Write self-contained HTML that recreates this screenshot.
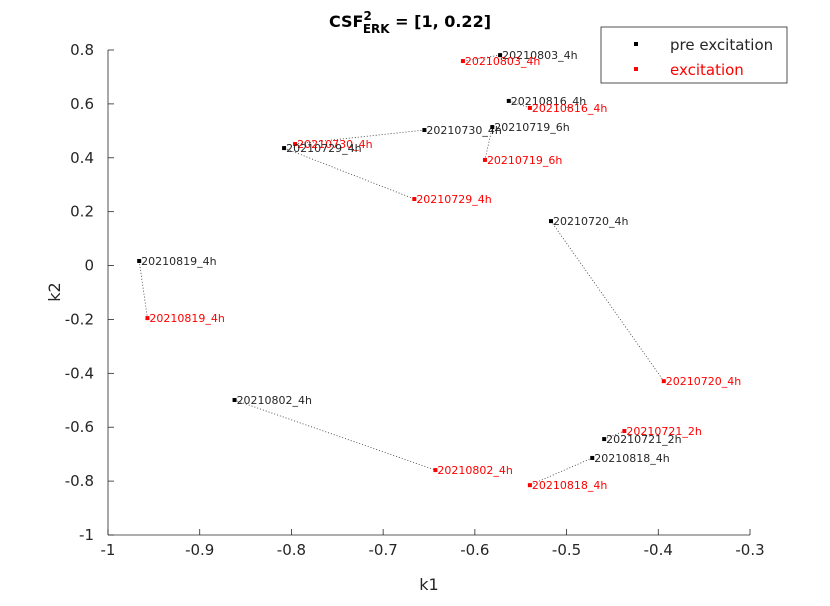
<!DOCTYPE html>
<html><head><meta charset="utf-8"><style>
body{margin:0;background:#fff;font-family:"DejaVu Sans","Liberation Sans",sans-serif}
</style></head><body>
<svg id="chart" width="830" height="602" viewBox="0 0 830 602" xmlns="http://www.w3.org/2000/svg" font-family="DejaVu Sans, Liberation Sans, sans-serif">
<rect width="830" height="602" fill="#fff"/>
<g id="axes"></g>
<g id="links"></g>
<g id="marks"></g>
<text x="410" y="27" text-anchor="middle" font-size="16" font-weight="bold">CSF<tspan dy="-7" font-size="12">2</tspan><tspan dy="13" dx="-9" font-size="12">ERK</tspan><tspan dy="-6"> = [1, 0.22]</tspan></text>
<text x="429" y="590" text-anchor="middle" font-size="16" fill="#262626">k1</text>
<text transform="translate(60,292) rotate(-90)" text-anchor="middle" font-size="16" fill="#262626">k2</text>
<g>
<rect x="601" y="27" width="186" height="56" fill="#fff" stroke="#262626" stroke-width="0.8"/>
<rect x="634" y="42" width="4" height="4" fill="#000"/>
<text x="670" y="50" font-size="15" fill="#262626">pre excitation</text>
<rect x="634" y="67" width="4" height="4" fill="#f00"/>
<text x="670" y="75" font-size="15" fill="#f00">excitation</text>
</g>
</svg>
<script>
const labels=["20210803_4h","20210816_4h","20210730_4h","20210719_6h","20210729_4h","20210720_4h","20210819_4h","20210802_4h","20210721_2h","20210818_4h"];
const preK1=[-0.5725,-0.563,-0.655,-0.581,-0.808,-0.517,-0.966,-0.862,-0.459,-0.472];
const preK2=[0.781,0.611,0.503,0.514,0.436,0.165,0.017,-0.499,-0.644,-0.714];
const excK1=[-0.613,-0.540,-0.796,-0.589,-0.666,-0.394,-0.957,-0.643,-0.437,-0.540];
const excK2=[0.759,0.585,0.451,0.392,0.247,-0.429,-0.195,-0.759,-0.614,-0.815];
const xTicks=[-1,-0.9,-0.8,-0.7,-0.6,-0.5,-0.4,-0.3];
const yTicks=[-1,-0.8,-0.6,-0.4,-0.2,0,0.2,0.4,0.6,0.8];
const NS="http://www.w3.org/2000/svg";
const X0=108,X1=750,Y0=535,Y1=50;
const sx=v=>X0+(v-(-1))/(0.7)*(X1-X0);
const sy=v=>Y0-(v-(-1))/(1.8)*(Y0-Y1);
function mk(tag,attrs,parent,text){const e=document.createElementNS(NS,tag);for(const k in attrs)e.setAttribute(k,attrs[k]);if(text!==undefined)e.textContent=text;parent.appendChild(e);return e;}
const ax=document.getElementById('axes');
let l=mk('line',{x1:X0,y1:Y0,x2:X1,y2:Y0,stroke:'#262626','stroke-width':0.8},ax);


l=mk('line',{x1:X0,y1:Y0,x2:X0,y2:Y1,stroke:'#262626','stroke-width':0.8},ax);


xTicks.forEach(t=>{const x=sx(t);
mk('line',{x1:x,y1:Y0,x2:x,y2:Y0-6,stroke:'#262626','stroke-width':0.8},ax);
const tx=mk('text',{x:x,y:Y0+20,'text-anchor':'middle','font-size':15,fill:'#262626'},ax,String(t));

});
yTicks.forEach(t=>{const y=sy(t);
mk('line',{x1:X0,y1:y,x2:X0+6,y2:y,stroke:'#262626','stroke-width':0.8},ax);
const tx=mk('text',{x:X0-14,y:y+5,'text-anchor':'end','font-size':15,fill:'#262626'},ax,String(t));

});
const lk=document.getElementById('links'),mg=document.getElementById('marks');
labels.forEach((lab,i)=>{
const ln=mk('line',{x1:sx(preK1[i]),y1:sy(preK2[i]),x2:sx(excK1[i]),y2:sy(excK2[i]),stroke:'#333','stroke-width':0.8,'stroke-dasharray':'1,2'},lk);


[[preK1,preK2,'#000','pre'],[excK1,excK2,'#f00','exc']].forEach(([a,b,c,n])=>{
const x=sx(a[i]),y=sy(b[i]);
const p=mk('rect',{x:x-2,y:y-2,width:4,height:4,fill:c},mg);


const t=mk('text',{x:x+2,y:y+4,'font-size':11,fill:c==='#000'?'#262626':'#f00'},mg,lab);

});
});
</script>
</body></html>
